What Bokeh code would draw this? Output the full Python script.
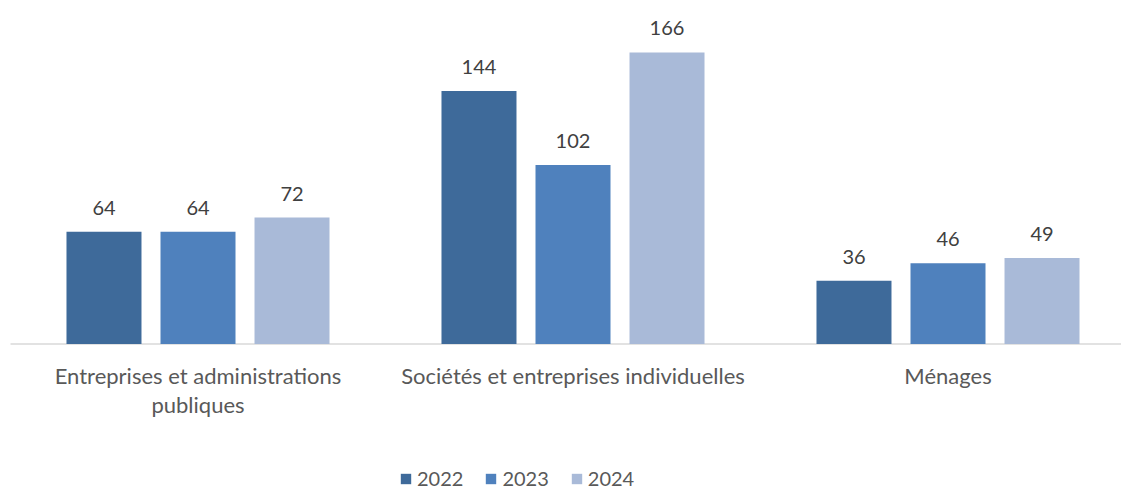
from bokeh.plotting import figure
from bokeh.models import ColumnDataSource, Range1d, Legend, LegendItem
from bokeh.transform import dodge
from bokeh.core.properties import value
from bokeh.embed import file_html
from bokeh.resources import INLINE

categories = ["Entreprises et administrations\npubliques",
              "Sociétés et entreprises individuelles",
              "Ménages"]
years = ["2022", "2023", "2024"]
v2022 = [64, 144, 36]
v2023 = [64, 102, 46]
v2024 = [72, 166, 49]
colors = ["#3E6A9A", "#4F81BD", "#A9BAD8"]

FONT = "Lato"

xc = [i + 0.5 for i in range(len(categories))]
line1 = [c.split("\n")[0] for c in categories]
line2 = [c.split("\n")[1] if "\n" in c else "" for c in categories]
src = ColumnDataSource(dict(xc=xc, v2022=v2022, v2023=v2023, v2024=v2024,
                            l2022=[str(v) for v in v2022],
                            l2023=[str(v) for v in v2023],
                            l2024=[str(v) for v in v2024],
                            line1=line1, line2=line2, zero=[0] * len(categories)))

p = figure(width=1121, height=490, output_backend="svg", toolbar_location=None,
           x_range=Range1d(-10 / 375, 1111 / 375), y_range=Range1d(-83.4, 195.6),
           min_border_left=0, min_border_right=0, min_border_top=0, min_border_bottom=0)
p.outline_line_color = None
p.xgrid.visible = False
p.ygrid.visible = False
p.xaxis.visible = False
p.yaxis.visible = False

# baseline (category axis line)
p.segment(x0=0, y0=0, x1=len(categories), y1=0, line_color="#D9D9D9", line_width=1.5)

offsets = [-0.2507, 0.0, 0.2507]
series = ["v2022", "v2023", "v2024"]
labels = ["l2022", "l2023", "l2024"]
renderers = []
for s, l, off, c in zip(series, labels, offsets, colors):
    r = p.vbar(x=dodge("xc", off, range=p.x_range), top=s, width=0.2, bottom=0,
               source=src, fill_color=c, line_color=None)
    renderers.append(r)
    p.text(x=dodge("xc", off, range=p.x_range), y=s, text=l, source=src,
           text_align="center", text_baseline="alphabetic", y_offset=-24,
           text_font=value(FONT), text_font_size="20px", text_color="#404040")

# category labels
for col, off in (("line1", 31.5), ("line2", 60.5)):
    p.text(x="xc", y="zero", text=col, source=src, text_align="center",
           text_baseline="alphabetic", y_offset=off,
           text_font=value(FONT), text_font_size="22px", text_color="#595959")

legend = Legend(items=[LegendItem(label=y, renderers=[r]) for y, r in zip(years, renderers)],
                orientation="horizontal", location=(399, 0),
                glyph_width=13, glyph_height=13, label_standoff=5, spacing=21,
                label_text_font=FONT, label_text_font_size="20px", label_text_color="#595959",
                border_line_color=None, background_fill_alpha=0, padding=0, margin=0)
p.add_layout(legend, "center")

open("out.html", "w").write(file_html(p, INLINE))
